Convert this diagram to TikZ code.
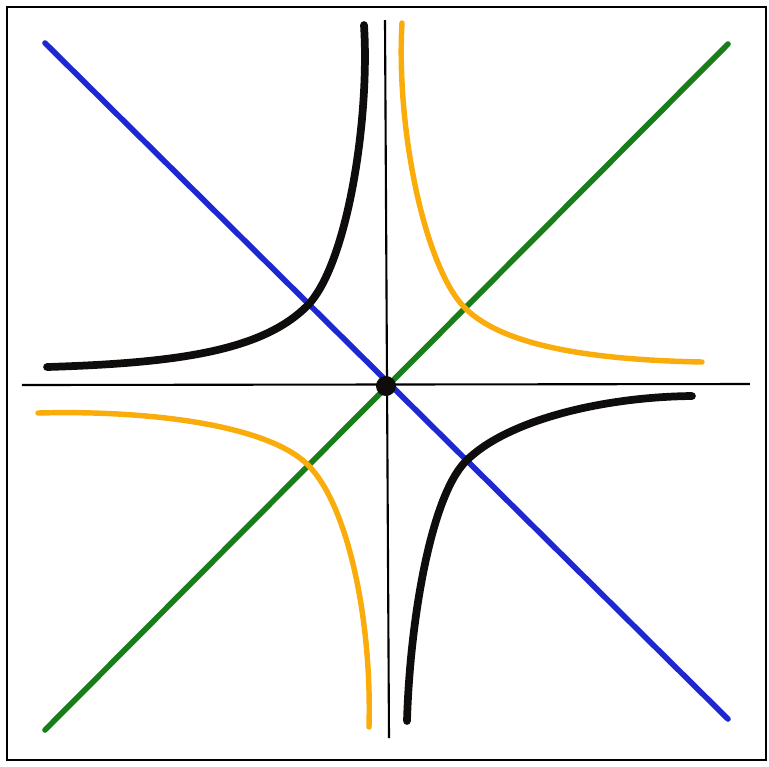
\documentclass[tikz,border=0pt]{standalone}
\usepackage{xcolor}
\usepackage{tikz}
\definecolor{cblue}  {RGB}{30, 40,210}
\definecolor{cgreen} {RGB}{25,125, 25}
\definecolor{corange}{RGB}{250,172, 10}
\definecolor{cblack} {RGB}{15, 12, 12}
\tikzset{
  frm/.style={draw=black, line width=0.45pt},
  axis/.style={draw=black, line width=0.6pt},
  diag/.style={draw=#1, line width=1.6pt, line cap=round},
  hyp/.style={draw=#1, line width=1.5pt, line cap=round, line join=round},
}

\begin{document}
\begin{tikzpicture}[x=0.1mm, y=-0.1mm]
  \useasboundingbox (0,0) rectangle (769,766);
  % ── Points ─────────────────────────────────────────────────────────────────
  \coordinate (O)    at (386,386);
  \coordinate (xl)   at (22,385);
  \coordinate (xr)   at (750,384);
  \coordinate (yt)   at (385,20);
  \coordinate (yb)   at (389,738);
  \coordinate (bnw)  at (45,43);
  \coordinate (bse)  at (728,719);
  \coordinate (gsw)  at (45,730);
  \coordinate (gne)  at (728,44);
  % where the branches cross the diagonals
  \coordinate (knw)  at (307,306);
  \coordinate (kse)  at (466,461);
  \coordinate (one)  at (465,308);
  \coordinate (osw)  at (308,465);

  % ── Frame and axes ─────────────────────────────────────────────────────────
  \draw[frm] (7,7) rectangle (766,760);
  \draw[axis] (xl) -- (xr);
  \draw[axis] (yt) -- (yb);

  % ── Diagonals ──────────────────────────────────────────────────────────────
  \draw[diag=cblue]  (bnw) -- (bse);
  \draw[diag=cgreen] (gsw) -- (gne);

  % ── Hyperbolas ─────────────────────────────────────────────────────────────
  \draw[hyp=corange, line width=1.55pt]
    (402,23) .. controls (396,130) and (425,268) .. (one)
             .. controls (505,348) and (600,360) .. (702,362);
  \draw[hyp=corange, line width=1.55pt]
    (38,413) .. controls (150,410) and (268,425) .. (osw)
             .. controls (348,505) and (372,620) .. (369,727);
  \draw[hyp=cblack, line width=2.2pt]
    (47,367) .. controls (177,363) and (262,351) .. (knw)
             .. controls (347,266) and (370,120) .. (364,25);
  \draw[hyp=cblack, line width=2.2pt]
    (692,396) .. controls (600,397) and (506,421) .. (kse)
              .. controls (431,496) and (410,620) .. (407,721);

  % ── Origin ─────────────────────────────────────────────────────────────────
  \fill[cblack] (O) circle (10);
\end{tikzpicture}
\end{document}
